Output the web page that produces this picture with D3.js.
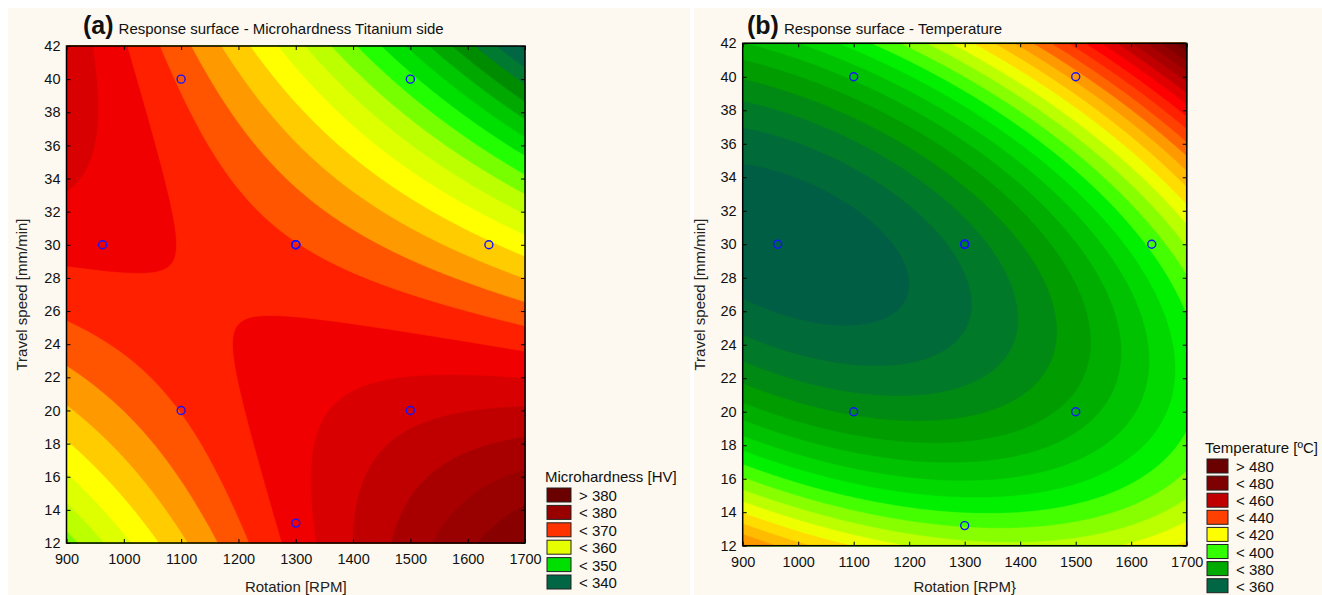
<!DOCTYPE html>
<html>
<head>
<meta charset="utf-8">
<script src="https://cdn.jsdelivr.net/npm/d3@7"></script>
<style>
  body { margin: 0; background: #fff; }
  svg { display: block; font-family: "Liberation Sans", Arial, sans-serif; }
</style>
</head>
<body>
<svg id="chart" width="1322" height="595"></svg>
<script>
// design points of the experiment (central composite design), centre point repeated
const designRpm   = [1100, 1100, 1500, 1500, 963, 1637, 1300, 1300, 1300, 1300];
const designSpeed = [20, 40, 20, 40, 30, 30, 13.2, 30, 30, 30];

const rpmTicks   = [900, 1000, 1100, 1200, 1300, 1400, 1500, 1600, 1700];
const speedTicks = [12, 14, 16, 18, 20, 22, 24, 26, 28, 30, 32, 34, 36, 38, 40, 42];

// fitted quadratic surfaces, coded units:
// X = (rpm - 1300) / 200, Y = (speed - 30) / 10
// terms: [const, X, Y, X*Y, X^2, Y^2]
const hvCoef   = [367.6, -3.05, -6.63, -6.35, -0.72, -2.63];
const tempCoef = [367, 13.5, 15.5, 9.5, 4.125, 22.5];

// contour levels and band colours (band above each level)
const hvLevels = [332.5, 335, 337.5, 340, 342.5, 345, 347.5, 350, 352.5, 355, 357.5, 360,
                  362.5, 365, 367.5, 370, 372.5, 375, 377.5, 380, 382.5, 385, 387.5];
const hvBandColors = ['#006644', '#007a30', '#008c00', '#00a800', '#00c800', '#00e000', '#22ff00',
                      '#77ff00', '#bbff00', '#ddff00', '#ffff00', '#ffcc00', '#ff9900', '#ff5500',
                      '#ff2000', '#f00000', '#d80000', '#c00000', '#a80000', '#990000', '#880000',
                      '#780000', '#6b0000'];
const hvBaseColor = '#005c46';

const tempLevels = [360, 365, 370, 375, 380, 385, 390, 395, 400, 405, 410, 415, 420, 425,
                    430, 435, 440, 445, 450, 455, 460, 465, 470, 475, 480];
const tempBandColors = ['#006b38', '#007a28', '#008a14', '#009c00', '#00ae00', '#00c200', '#00d800',
                        '#00f000', '#44ff00', '#88ff00', '#bbff00', '#eeff00', '#ffdd00', '#ffbb00',
                        '#ff9900', '#ff6600', '#ff4000', '#ff2000', '#ff0000', '#e00000', '#c00000',
                        '#a80000', '#940000', '#800000', '#6b0000'];
const tempBaseColor = '#005e45';

// legends
const hvLegendLabels   = ['> 380', '< 380', '< 370', '< 360', '< 350', '< 340'];
const hvLegendColors   = ['#6b0000', '#990000', '#ff3300', '#e5ff00', '#00e000', '#006644'];
const tempLegendLabels = ['> 480', '< 480', '< 460', '< 440', '< 420', '< 400', '< 380', '< 360'];
const tempLegendColors = ['#6b0000', '#7f0000', '#c00000', '#ff4000', '#ffff00', '#33ff00', '#00aa00', '#006644'];

const svg = d3.select('#chart');
const cream = '#fdf9f0';

const surface = (coef, rpm, speed) => {
  const X = (rpm - 1300) / 200, Y = (speed - 30) / 10;
  return coef[0] + coef[1] * X + coef[2] * Y + coef[3] * X * Y + coef[4] * X * X + coef[5] * Y * Y;
};

const drawPanel = (p) => {
  const g = svg.append('g');
  g.append('rect')
    .attr('x', p.bg[0]).attr('y', 8).attr('width', p.bg[1] - p.bg[0]).attr('height', 595 - 8)
    .attr('fill', cream);

  const x = d3.scaleLinear().domain([900, 1700]).range([p.left, p.right]);
  const y = d3.scaleLinear().domain([12, 42]).range([p.bottom, p.top]);
  const w = p.right - p.left, h = p.bottom - p.top;

  // sample the surface on a grid and build filled contour bands
  const nx = 220, ny = 250;
  const values = new Array(nx * ny);
  for (let j = 0; j < ny; j++) {
    for (let i = 0; i < nx; i++) {
      const rpm = x.invert(p.left + (i + 0.5) * w / nx);
      const spd = y.invert(p.top + (j + 0.5) * h / ny);
      values[j * nx + i] = surface(p.coef, rpm, spd);
    }
  }
  const bands = d3.contours().size([nx, ny]).thresholds(p.levels)(values);
  const proj = d3.geoTransform({
    point: function (px, py) { this.stream.point(p.left + px * w / nx, p.top + py * h / ny); }
  });
  const path = d3.geoPath(proj);

  g.append('rect')
    .attr('x', p.left).attr('y', p.top).attr('width', w).attr('height', h)
    .attr('fill', p.base);
  g.append('g').selectAll('path')
    .data(bands)
    .enter()
    .append('path')
    .attr('d', path)
    .attr('fill', (d, i) => p.colors[i])
    .attr('stroke', (d, i) => p.colors[i])
    .attr('stroke-width', 0.4);

  // design points
  g.append('g').selectAll('circle')
    .data(designRpm.map((r, i) => [r, designSpeed[i]]))
    .enter()
    .append('circle')
    .attr('cx', d => x(d[0]))
    .attr('cy', d => y(d[1]))
    .attr('r', 4)
    .attr('fill', 'none')
    .attr('stroke', '#1414ff')
    .attr('stroke-width', 1.4);

  // axes with inward ticks
  const fs = '14.5px';
  const bottom = g.append('g').attr('transform', `translate(0,${p.bottom})`)
    .call(d3.axisBottom(x).tickValues(rpmTicks).tickSize(-4).tickPadding(11).tickFormat(d3.format('d')));
  const left = g.append('g').attr('transform', `translate(${p.left},0)`)
    .call(d3.axisLeft(y).tickValues(speedTicks).tickSize(-4).tickPadding(6).tickFormat(d3.format('d')));
  const top = g.append('g').attr('transform', `translate(0,${p.top})`)
    .call(d3.axisTop(x).tickValues(rpmTicks).tickSize(-4).tickFormat(''));
  const right = g.append('g').attr('transform', `translate(${p.right},0)`)
    .call(d3.axisRight(y).tickValues(speedTicks).tickSize(-4).tickFormat(''));
  [bottom, left, top, right].forEach(a => {
    a.select('.domain').remove();
    a.selectAll('line').attr('stroke', '#000').attr('stroke-width', 1);
    a.selectAll('text').attr('font-size', fs).attr('font-family', '"Liberation Sans", Arial, sans-serif').attr('fill', '#111');
  });

  g.append('rect')
    .attr('x', p.left).attr('y', p.top).attr('width', w).attr('height', h)
    .attr('fill', 'none').attr('stroke', '#000').attr('stroke-width', 1.5);

  // titles
  g.append('text')
    .attr('x', (p.left + p.right) / 2).attr('y', 592)
    .attr('text-anchor', 'middle').attr('font-size', '15px').attr('fill', '#222')
    .text(p.xTitle);
  g.append('text')
    .attr('transform', `translate(${p.yTitleX},${(p.top + p.bottom) / 2}) rotate(-90)`)
    .attr('text-anchor', 'middle').attr('font-size', '15px').attr('fill', '#222')
    .text('Travel speed [mm/min]');

  const t = g.append('text').attr('x', p.titleX).attr('y', 34).attr('fill', '#111');
  t.append('tspan').attr('font-size', '25px').attr('font-weight', 'bold').text(p.tag);
  t.append('tspan').attr('dx', 5).attr('font-size', '15px').text(p.title);

  // legend
  const lg = g.append('g');
  lg.append('text')
    .attr('x', p.legend.x - 2).attr('y', p.legend.y - 6)
    .attr('font-size', '15px').attr('fill', '#111')
    .text(p.legend.title);
  const rows = lg.selectAll('g.row')
    .data(p.legend.labels)
    .enter()
    .append('g')
    .attr('class', 'row')
    .attr('transform', (d, i) => `translate(${p.legend.x},${p.legend.y + i * p.legend.step})`);
  rows.append('rect')
    .attr('width', p.legend.sw).attr('height', 14)
    .attr('fill', (d, i) => p.legend.colors[i])
    .attr('stroke', '#222').attr('stroke-width', 1);
  rows.append('text')
    .attr('x', p.legend.sw + 8).attr('y', 13)
    .attr('font-size', '15px').attr('fill', '#111')
    .text(d => d);
};

drawPanel({
  bg: [8, 690], left: 66.5, right: 525, top: 46, bottom: 543,
  coef: hvCoef, levels: hvLevels, colors: hvBandColors, base: hvBaseColor,
  xTitle: 'Rotation [RPM]', yTitleX: 27, titleX: 83,
  tag: '(a)', title: 'Response surface - Microhardness Titanium side',
  legend: { x: 547, y: 488, step: 17.4, sw: 24, title: 'Microhardness [HV]',
            labels: hvLegendLabels, colors: hvLegendColors }
});

drawPanel({
  bg: [694, 1322], left: 742.7, right: 1186.7, top: 43.3, bottom: 545.7,
  coef: tempCoef, levels: tempLevels, colors: tempBandColors, base: tempBaseColor,
  xTitle: 'Rotation [RPM}', yTitleX: 705, titleX: 747,
  tag: '(b)', title: 'Response surface - Temperature',
  legend: { x: 1207, y: 459, step: 17.1, sw: 21, title: 'Temperature [ºC]',
            labels: tempLegendLabels, colors: tempLegendColors }
});
</script>
</body>
</html>
